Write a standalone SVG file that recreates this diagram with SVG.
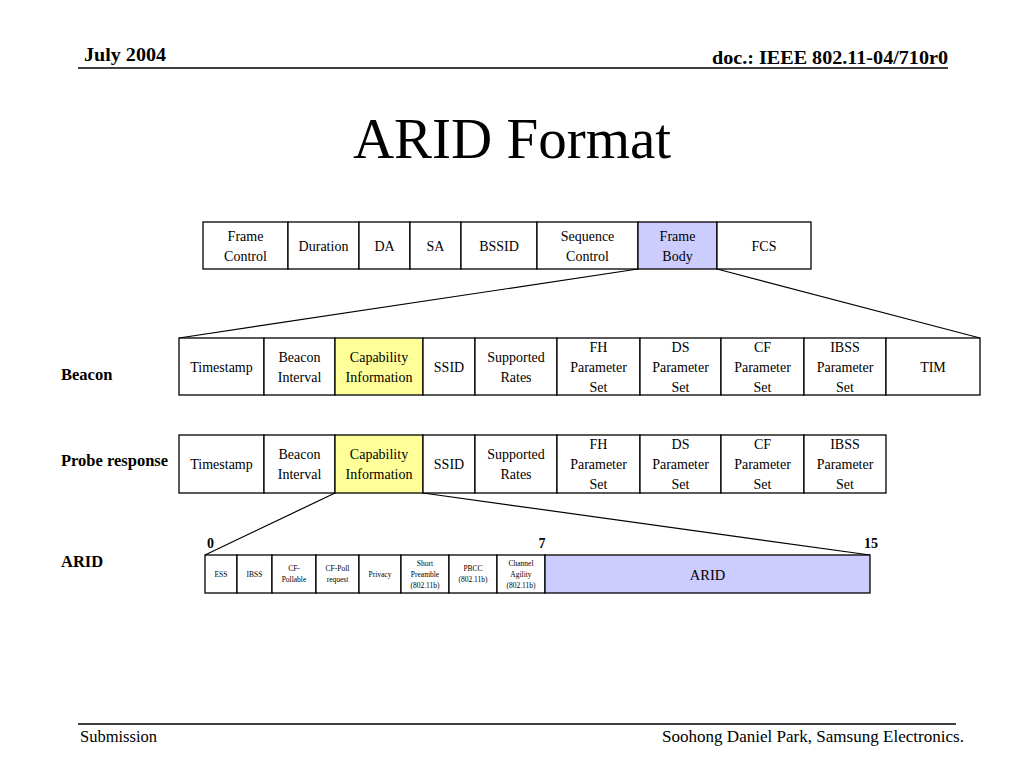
<svg xmlns="http://www.w3.org/2000/svg" width="1024" height="768" viewBox="0 0 1024 768">
<style>
text{font-family:"Liberation Serif","Times New Roman",serif;fill:#000}
.c{font-size:14px;text-anchor:middle}
.s{font-size:7.5px;text-anchor:middle}
.b{font-weight:bold}
.lbl{font-size:16.5px;font-weight:bold}
.cell{fill:#fff;stroke:#000;stroke-width:1.3}
.blue{fill:#ccccff}
.yel{fill:#ffff99}
.rule{stroke:#000;stroke-width:1.5}
.conn{stroke:#000;stroke-width:1.2;fill:none}
</style>
<rect width="1024" height="768" fill="#fff"/>
<g id="header">
<text x="84" y="61" class="b" style="font-size:18px" textLength="82" lengthAdjust="spacingAndGlyphs">July 2004</text>
<text x="948" y="64" class="b" style="font-size:18px" text-anchor="end" textLength="236" lengthAdjust="spacingAndGlyphs">doc.: IEEE 802.11-04/710r0</text>
<line x1="78" y1="68" x2="948" y2="68" class="rule"/>
</g>
<text id="title" x="512" y="158" style="font-size:57px" text-anchor="middle">ARID Format</text>

<g id="connectors">
<line x1="638" y1="269" x2="179" y2="338" class="conn"/>
<line x1="717" y1="269" x2="980" y2="338" class="conn"/>
<line x1="335" y1="493" x2="205" y2="555" class="conn"/>
<line x1="423" y1="493" x2="870" y2="555" class="conn"/>
</g>

<g id="mac-frame">
<rect x="203" y="222" width="85" height="47" class="cell"/>
<rect x="288" y="222" width="71" height="47" class="cell"/>
<rect x="359" y="222" width="51" height="47" class="cell"/>
<rect x="410" y="222" width="51" height="47" class="cell"/>
<rect x="461" y="222" width="76" height="47" class="cell"/>
<rect x="537" y="222" width="101" height="47" class="cell"/>
<rect x="638" y="222" width="79" height="47" class="cell blue"/>
<rect x="717" y="222" width="94" height="47" class="cell"/>
<text class="c" x="245.5" y="241">Frame</text><text class="c" x="245.5" y="261">Control</text>
<text class="c" x="323.5" y="251">Duration</text>
<text class="c" x="384.5" y="251">DA</text>
<text class="c" x="435.5" y="251">SA</text>
<text class="c" x="499" y="251">BSSID</text>
<text class="c" x="587.5" y="241">Sequence</text><text class="c" x="587.5" y="261">Control</text>
<text class="c" x="677.5" y="241">Frame</text><text class="c" x="677.5" y="261">Body</text>
<text class="c" x="764" y="251">FCS</text>
</g>

<g id="beacon">
<text x="61" y="380" class="lbl">Beacon</text>
<rect x="179" y="338" width="85" height="57" class="cell"/>
<rect x="264" y="338" width="71" height="57" class="cell"/>
<rect x="335" y="338" width="88" height="57" class="cell yel"/>
<rect x="423" y="338" width="52" height="57" class="cell"/>
<rect x="475" y="338" width="82" height="57" class="cell"/>
<rect x="557" y="338" width="83" height="57" class="cell"/>
<rect x="640" y="338" width="81" height="57" class="cell"/>
<rect x="721" y="338" width="83" height="57" class="cell"/>
<rect x="804" y="338" width="82" height="57" class="cell"/>
<rect x="886" y="338" width="94" height="57" class="cell"/>
<text class="c" x="221.5" y="372">Timestamp</text>
<text class="c" x="299.5" y="362">Beacon</text><text class="c" x="299.5" y="382">Interval</text>
<text class="c" x="379" y="362">Capability</text><text class="c" x="379" y="382">Information</text>
<text class="c" x="449" y="372">SSID</text>
<text class="c" x="516" y="362">Supported</text><text class="c" x="516" y="382">Rates</text>
<text class="c" x="598.5" y="352">FH</text><text class="c" x="598.5" y="372">Parameter</text><text class="c" x="598.5" y="392">Set</text>
<text class="c" x="680.5" y="352">DS</text><text class="c" x="680.5" y="372">Parameter</text><text class="c" x="680.5" y="392">Set</text>
<text class="c" x="762.5" y="352">CF</text><text class="c" x="762.5" y="372">Parameter</text><text class="c" x="762.5" y="392">Set</text>
<text class="c" x="845" y="352">IBSS</text><text class="c" x="845" y="372">Parameter</text><text class="c" x="845" y="392">Set</text>
<text class="c" x="933" y="372">TIM</text>
</g>

<g id="probe-response">
<text x="61" y="466" class="lbl">Probe response</text>
<rect x="179" y="435" width="85" height="58" class="cell"/>
<rect x="264" y="435" width="71" height="58" class="cell"/>
<rect x="335" y="435" width="88" height="58" class="cell yel"/>
<rect x="423" y="435" width="52" height="58" class="cell"/>
<rect x="475" y="435" width="82" height="58" class="cell"/>
<rect x="557" y="435" width="83" height="58" class="cell"/>
<rect x="640" y="435" width="81" height="58" class="cell"/>
<rect x="721" y="435" width="83" height="58" class="cell"/>
<rect x="804" y="435" width="82" height="58" class="cell"/>
<text class="c" x="221.5" y="469">Timestamp</text>
<text class="c" x="299.5" y="459">Beacon</text><text class="c" x="299.5" y="479">Interval</text>
<text class="c" x="379" y="459">Capability</text><text class="c" x="379" y="479">Information</text>
<text class="c" x="449" y="469">SSID</text>
<text class="c" x="516" y="459">Supported</text><text class="c" x="516" y="479">Rates</text>
<text class="c" x="598.5" y="449">FH</text><text class="c" x="598.5" y="469">Parameter</text><text class="c" x="598.5" y="489">Set</text>
<text class="c" x="680.5" y="449">DS</text><text class="c" x="680.5" y="469">Parameter</text><text class="c" x="680.5" y="489">Set</text>
<text class="c" x="762.5" y="449">CF</text><text class="c" x="762.5" y="469">Parameter</text><text class="c" x="762.5" y="489">Set</text>
<text class="c" x="845" y="449">IBSS</text><text class="c" x="845" y="469">Parameter</text><text class="c" x="845" y="489">Set</text>
</g>

<g id="arid">
<text x="61" y="567" class="lbl">ARID</text>
<text x="207" y="548" class="b" style="font-size:14px">0</text>
<text x="542" y="548" class="b" style="font-size:14px" text-anchor="middle">7</text>
<text x="878" y="548" class="b" style="font-size:14px" text-anchor="end">15</text>
<rect x="205" y="555" width="32" height="38" class="cell"/>
<rect x="237" y="555" width="35" height="38" class="cell"/>
<rect x="272" y="555" width="44" height="38" class="cell"/>
<rect x="316" y="555" width="43" height="38" class="cell"/>
<rect x="359" y="555" width="42" height="38" class="cell"/>
<rect x="401" y="555" width="48" height="38" class="cell"/>
<rect x="449" y="555" width="48" height="38" class="cell"/>
<rect x="497" y="555" width="48" height="38" class="cell"/>
<rect x="545" y="555" width="325" height="38" class="cell blue"/>
<text class="s" x="221" y="577">ESS</text>
<text class="s" x="254.5" y="577">IBSS</text>
<text class="s" x="294" y="571">CF-</text><text class="s" x="294" y="582">Pollable</text>
<text class="s" x="337.5" y="571">CF-Poll</text><text class="s" x="337.5" y="582">request</text>
<text class="s" x="380" y="577">Privacy</text>
<text class="s" x="425" y="566">Short</text><text class="s" x="425" y="577">Preamble</text><text class="s" x="425" y="588">(802.11b)</text>
<text class="s" x="473" y="571">PBCC</text><text class="s" x="473" y="582">(802.11b)</text>
<text class="s" x="521" y="566">Channel</text><text class="s" x="521" y="577">Agility</text><text class="s" x="521" y="588">(802.11b)</text>
<text class="c" x="707.5" y="580" style="font-size:14.5px">ARID</text>
</g>

<g id="footer">
<line x1="78" y1="724" x2="956" y2="724" class="rule"/>
<text x="80" y="742" style="font-size:16.5px">Submission</text>
<text x="964" y="742" style="font-size:16.5px" text-anchor="end" textLength="302" lengthAdjust="spacingAndGlyphs">Soohong Daniel Park, Samsung Electronics.</text>
</g>
</svg>
